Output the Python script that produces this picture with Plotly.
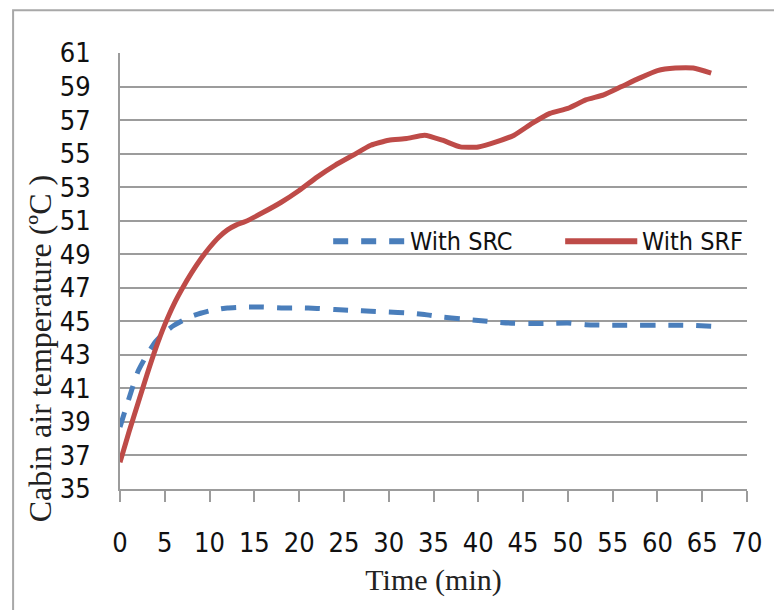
import plotly.graph_objects as go

# Elapsed time (min)
time_min = [0, 1, 2, 3, 4, 5, 6, 7, 8, 9, 10, 11, 12, 13, 14, 16, 18, 20, 22, 24,
            26, 28, 30, 32, 34, 36, 38, 40, 42, 44, 46, 48, 50, 52, 54, 56, 58,
            60, 62, 64, 66]

# Cabin air temperature (ºC) with solar reflective cover
temp_src = [38.7, 40.4, 42.0, 43.0, 43.8, 44.35, 44.75, 45.05, 45.3, 45.48, 45.62,
            45.72, 45.8, 45.83, 45.85, 45.85, 45.8, 45.8, 45.77, 45.7,
            45.65, 45.6, 45.55, 45.5, 45.4, 45.25, 45.15, 45.05, 44.95, 44.88,
            44.87, 44.88, 44.9, 44.8, 44.77, 44.77, 44.77,
            44.77, 44.77, 44.75, 44.7]

# Cabin air temperature (ºC) with solar reflective film
temp_srf = [36.6, 38.4, 40.1, 41.8, 43.4, 44.8, 46.0, 47.0, 47.9, 48.7, 49.4,
            50.0, 50.45, 50.75, 50.95, 51.5, 52.1, 52.8, 53.6, 54.3,
            54.9, 55.5, 55.8, 55.9, 56.1, 55.8, 55.4, 55.4, 55.7, 56.1,
            56.8, 57.4, 57.7, 58.2, 58.5, 59.0, 59.5,
            59.95, 60.1, 60.1, 59.8]

series_names = ["With SRC", "With SRF"]
y_ticks = list(range(35, 62, 2))
x_ticks = list(range(0, 71, 5))

BLUE = "#4A7EBB"
RED = "#BE4B48"
GRID = "#9C9C9C"
SANS = "Liberation Sans Narrow, DejaVu Sans Condensed, Arial Narrow, sans-serif"
SERIF = "Liberation Serif, Times New Roman, serif"
SRC_DASH = "15px,13px"

fig = go.Figure()
fig.add_trace(go.Scatter(
    x=time_min, y=temp_src, mode="lines", name=series_names[0],
    line=dict(color=BLUE, width=5, dash=SRC_DASH, shape="spline", smoothing=0.5),
    showlegend=False))
fig.add_trace(go.Scatter(
    x=time_min, y=temp_srf, mode="lines", name=series_names[1],
    line=dict(color=RED, width=5, shape="spline", smoothing=0.5),
    showlegend=False))

# In-plot legend: sample line + label for each series
legend_y = 0.568
legend_items = [
    (series_names[0], BLUE, SRC_DASH, 0.340, 0.455),
    (series_names[1], RED, "solid", 0.710, 0.825),
]
for name, color, dash, x0, x1 in legend_items:
    fig.add_shape(type="line", xref="paper", yref="paper",
                  x0=x0, x1=x1, y0=legend_y, y1=legend_y,
                  line=dict(color=color, width=6, dash=dash))
    fig.add_annotation(xref="paper", yref="paper", x=x1 + 0.005, y=legend_y,
                       text=name, showarrow=False, xanchor="left", yanchor="middle",
                       font=dict(family=SANS, size=25, color="#111111"))

# Y-axis title
fig.add_annotation(xref="paper", yref="paper", x=-0.128, y=0.322,
                   text="Cabin air temperature (ºC )", textangle=-90,
                   showarrow=False, xanchor="center", yanchor="middle",
                   font=dict(family=SERIF, size=32, color="#222222"))

# Outer chart frame
fig.add_shape(type="rect", xref="paper", yref="paper",
              x0=-0.1705, x1=1.10, y0=-0.35, y1=1.098,
              line=dict(color="#A8A8A8", width=2), layer="below")

fig.update_layout(
    width=774, height=610,
    margin=dict(l=119.5, r=27, t=52.7, b=121),
    paper_bgcolor="white", plot_bgcolor="white",
    xaxis=dict(
        range=[0, 70], tickvals=x_ticks, showgrid=False, zeroline=False,
        showline=True, linecolor=GRID, linewidth=2,
        ticks="outside", ticklen=11, tickwidth=2, tickcolor=GRID,
        tickfont=dict(family=SANS, size=27, color="#111111"),
        ticklabelstandoff=18,
        title=dict(text="Time (min)", font=dict(family=SERIF, size=30, color="#222222"),
                   standoff=12),
    ),
    yaxis=dict(
        range=[35, 61], tickvals=y_ticks, showgrid=True, gridcolor=GRID, gridwidth=2,
        zeroline=False, showline=True, linecolor=GRID, linewidth=2, ticks="",
        tickfont=dict(family=SANS, size=27, color="#111111"),
        ticklabelstandoff=22,
    ),
)

fig.write_html("out.html")
